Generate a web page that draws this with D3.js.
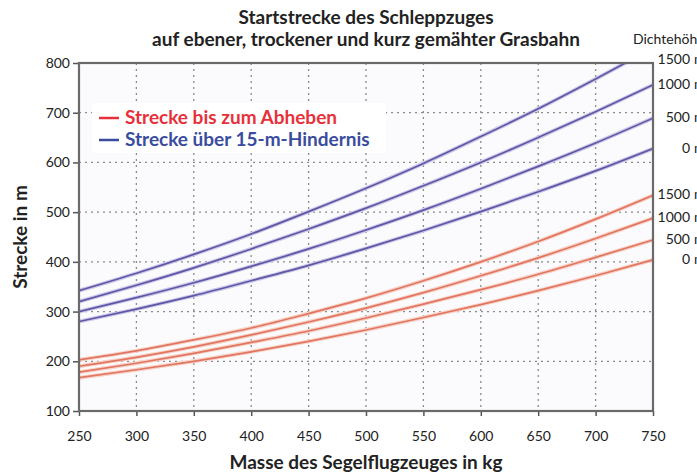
<!DOCTYPE html>
<html><head><meta charset="utf-8">
<script src="https://cdn.jsdelivr.net/npm/d3@7"></script>
<style>body{margin:0;background:#fff;overflow:hidden}svg{display:block}</style>
</head><body>
<svg id="c" width="697" height="472"></svg>
<script>
const masses = [250,300,350,400,450,500,550,600,650,700,750];
const heights = ["0","500","1000","1500"];
const blue0    = [280,305,332,362,393,427,463,501,541,583,628];
const blue500  = [300,328,358,391,426,464,504,547,592,639,689];
const blue1000 = [320,353,388,426,466,508,553,600,650,702,756];
const blue1500 = [342,377,415,456,501,548,598,652,708,768,830];
const red0     = [167,183,200,219,240,263,288,314,342,372,404];
const red500   = [178,196,216,238,261,287,315,344,375,409,444];
const red1000  = [190,208,229,253,279,307,338,372,408,447,488];
const red1500  = [203,221,243,267,296,327,362,400,441,486,534];
const yTicks = [100,200,300,400,500,600,700,800];
const xTicks = [250,300,350,400,450,500,550,600,650,700,750];
const blueSeries = [blue0, blue500, blue1000, blue1500];
const redSeries = [red0, red500, red1000, red1500];

const svg = d3.select("#c");
const L=79, R=653, T=63, B=411;
const x = d3.scaleLinear().domain([250,750]).range([L,R]);
const y = d3.scaleLinear().domain([100,800]).range([B,T]);
const font = "Lato, 'Open Sans', sans-serif";

svg.append("rect").attr("x",L).attr("y",T).attr("width",R-L).attr("height",B-T).attr("fill","#fbfbfd");

const g = svg.append("g");
g.selectAll("line.v").data(xTicks.slice(1,-1)).join("line")
  .attr("x1",d=>x(d)).attr("x2",d=>x(d)).attr("y1",T).attr("y2",B)
  .attr("stroke","#8a8a8a").attr("stroke-width",1.3).attr("stroke-dasharray","2,4");
g.selectAll("line.h").data(yTicks.slice(1,-1)).join("line")
  .attr("x1",L).attr("x2",R).attr("y1",d=>y(d)).attr("y2",d=>y(d))
  .attr("stroke","#8a8a8a").attr("stroke-width",1.3).attr("stroke-dasharray","2,4");

svg.append("clipPath").attr("id","pc").append("rect").attr("x",L).attr("y",T).attr("width",R-L).attr("height",B-T);
const line = d3.line().x((d,i)=>x(masses[i])).y(d=>y(d)).curve(d3.curveMonotoneX);
const cg = svg.append("g").attr("clip-path","url(#pc)");
blueSeries.forEach(s=>{
  cg.append("path").attr("d",line(s)).attr("fill","none").attr("stroke","#cdc9e8").attr("stroke-width",4);
  cg.append("path").attr("d",line(s)).attr("fill","none").attr("stroke","#5e56a6").attr("stroke-width",1.7);
});
redSeries.forEach(s=>{
  cg.append("path").attr("d",line(s)).attr("fill","none").attr("stroke","#f7d3c9").attr("stroke-width",4);
  cg.append("path").attr("d",line(s)).attr("fill","none").attr("stroke","#e27560").attr("stroke-width",1.7);
});

const ax = svg.append("g").attr("transform",`translate(0,${B})`)
  .call(d3.axisBottom(x).tickValues(xTicks).tickSize(5).tickPadding(15));
const ay = svg.append("g").attr("transform",`translate(${L},0)`)
  .call(d3.axisLeft(y).tickValues(yTicks).tickSize(6).tickPadding(3));
[ax,ay].forEach(a=>{
  a.select(".domain").remove();
  a.selectAll(".tick line").attr("stroke","#555").attr("stroke-width",1.5);
  a.selectAll(".tick text").attr("fill","#222").style("font-family",font).style("font-size","14px");
});
svg.append("rect").attr("x",L).attr("y",T).attr("width",R-L).attr("height",B-T)
  .attr("fill","none").attr("stroke","#6a6a6a").attr("stroke-width",2.2);

function title(tx,ty,t,rot){
  const e = svg.append("text").attr("text-anchor","middle")
    .style("font-family",font).style("font-weight","bold").style("font-size","19px").attr("fill","#222").text(t);
  if(rot) e.attr("transform",`translate(${tx},${ty}) rotate(-90)`); else e.attr("x",tx).attr("y",ty);
}
title(366,24,"Startstrecke des Schleppzuges");
title(366,46,"auf ebener, trockener und kurz gemähter Grasbahn");
title(366,469,"Masse des Segelflugzeuges in kg");
title(27,237,"Strecke in m",true);

svg.append("text").attr("x",633).attr("y",44)
  .style("font-family",font).style("font-size","14px").attr("fill","#222").text("Dichtehöhe");
const labelTop = 806;
function endLabels(series){
  series.forEach((s,i)=>{
    const v = Math.min(s[s.length-1], labelTop);
    const ty = y(v)+4;
    svg.append("text").attr("x",690).attr("y",ty).attr("text-anchor","end")
      .style("font-family",font).style("font-size","14px").attr("fill","#222").text(heights[i]);
    svg.append("text").attr("x",694).attr("y",ty)
      .style("font-family",font).style("font-size","14px").attr("fill","#222").text("m");
  });
}
endLabels(blueSeries);
endLabels(redSeries);

svg.append("rect").attr("x",92).attr("y",103).attr("width",294).attr("height",50).attr("fill","#fff");
const leg = [["Strecke bis zum Abheben","#e8303a",124],["Strecke über 15-m-Hindernis","#3a4c9e",146]];
leg.forEach(([t,c,ly])=>{
  svg.append("line").attr("x1",99).attr("x2",119).attr("y1",ly-6).attr("y2",ly-6).attr("stroke",c).attr("stroke-width",2.5);
  svg.append("text").attr("x",125).attr("y",ly).style("font-family",font).style("font-weight","bold")
    .style("font-size","19px").attr("fill",c).text(t);
});
</script>
</body></html>
